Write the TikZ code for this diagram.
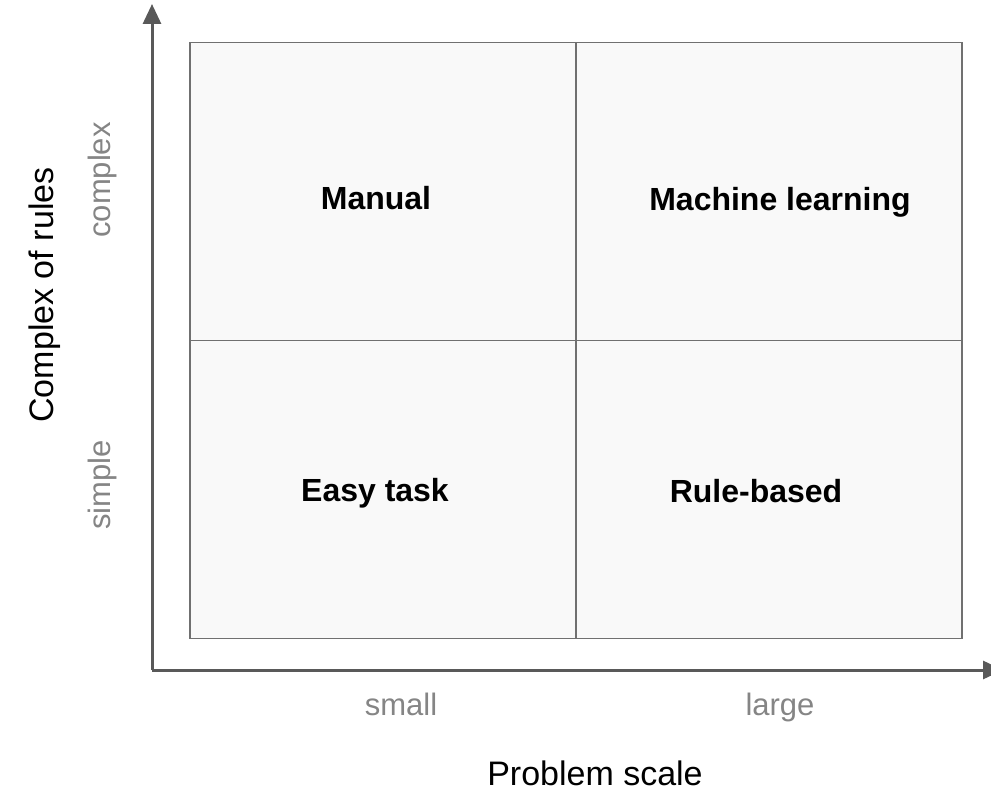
\documentclass[tikz,border=0pt]{standalone}
\usepackage{fontspec}
\setmainfont{Liberation Sans}
\usepackage{xcolor}
\usetikzlibrary{positioning,arrows.meta}

\definecolor{axisgray}{HTML}{595959}
\definecolor{cellgray}{HTML}{F9F9F9}
\definecolor{linegray}{HTML}{707070}
\definecolor{textgray}{HTML}{858585}

\begin{document}
\begin{tikzpicture}[
  x=1pt, y=-1pt,
  node distance=0pt,
  cell/.style={draw=linegray, fill=cellgray, line width=1.5pt, minimum width=386pt, minimum height=298pt, inner sep=0pt, outer sep=0pt},
  quad/.style={font=\fontsize{32}{38}\selectfont\bfseries, anchor=base, inner sep=0pt},
  tick/.style={font=\fontsize{31}{37}\selectfont, text=textgray, inner sep=0pt},
  axlabel/.style={font=\fontsize{34}{40}\selectfont, inner sep=0pt},
  axis/.style={-{Triangle[length=20pt,width=18pt]}, line width=3pt, draw=axisgray}
]
\useasboundingbox (0,0) rectangle (991,792);

% quadrants
\node[cell] (topleft) at (383,191.5) {};
\node[cell, right=of topleft] (topright) {};
\node[cell, below=of topleft] (botleft) {};
\node[cell, right=of botleft] (botright) {};

\node[quad] (manual) at (376,209) {Manual};
\node[quad] (ml) at (780,210) {Machine learning};
\node[quad] (easy) at (375,501) {Easy task};
\node[quad] (rule) at (756,502) {Rule-based};

% axes
\coordinate (origin) at (152,670);
\coordinate (ytip) at (152,4);
\coordinate (xtip) at (1003,670);
\draw[axis] (origin) -- (ytip);
\draw[axis] (origin) -- (xtip);

% tick labels
\node[tick, anchor=base] (small) at (401,715) {small};
\node[tick, anchor=base] (large) at (780,715) {large};
\node[tick, rotate=90] (complex) at (102,180) {complex};
\node[tick, rotate=90] (simple) at (102,485) {simple};

% axis titles
\node[axlabel, anchor=base] (xtitle) at (595,785) {Problem scale};
\node[axlabel, rotate=90] (ytitle) at (45,295) {Complex of rules};
\end{tikzpicture}
\end{document}
